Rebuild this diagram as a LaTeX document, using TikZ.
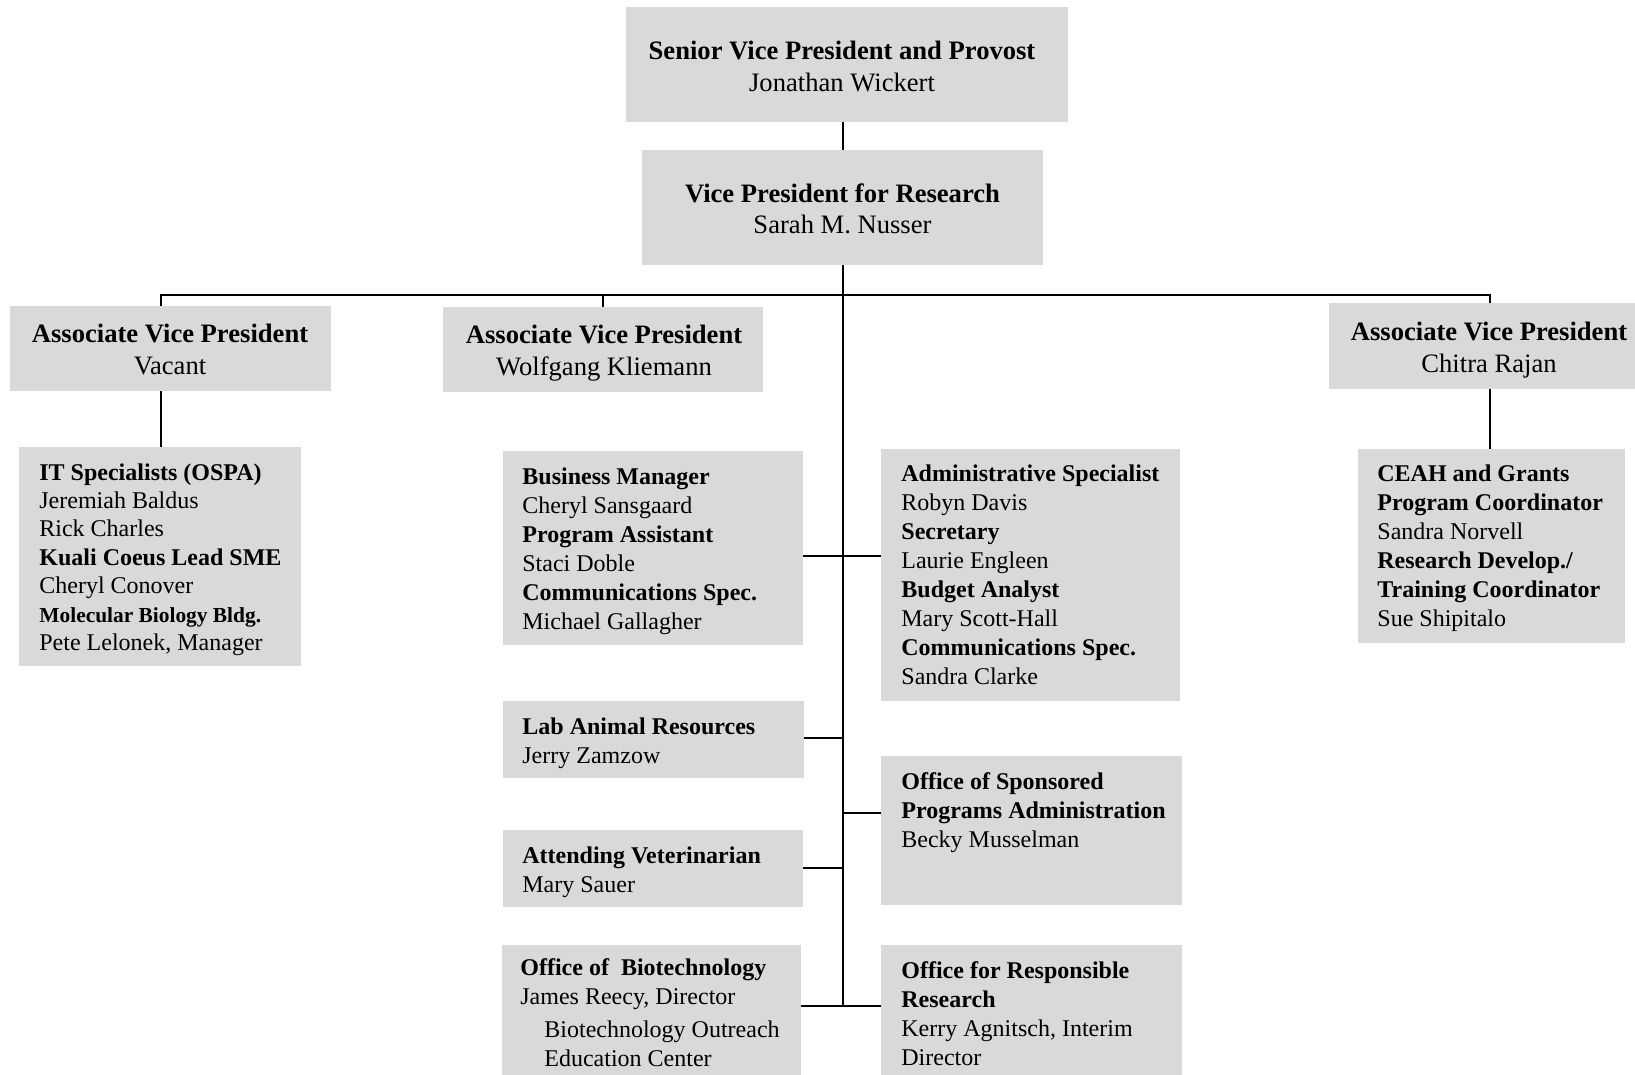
\documentclass[tikz,border=0pt]{standalone}
\usepackage{fontspec}
\setmainfont{Liberation Serif}
\usetikzlibrary{fit}
\definecolor{boxgray}{RGB}{217,217,217}
\begin{document}
\begin{tikzpicture}[x=0.5pt,y=-0.5pt,
  box/.style={fill=boxgray, draw=none, inner sep=0pt},
  link/.style={draw=black, line width=1pt},
  big/.style={inner sep=0pt, align=center, anchor=north, font=\fontsize{13.3}{15.6}\selectfont},
  small/.style={inner sep=0pt, align=left, anchor=north west, font=\fontsize{12}{14.5}\selectfont}]
\useasboundingbox (0,0) rectangle (1635,1075);

% boxes
\node[box, fit={(626,7) (1068,122)}] (top) {};
\node[box, fit={(642,150) (1043,265)}] (vp) {};
\node[box, fit={(10,306) (331,391)}] (avpA) {};
\node[box, fit={(443,307) (763,392)}] (avpB) {};
\node[box, fit={(1329,303) (1635,389)}] (avpC) {};
\node[box, fit={(19,447) (301,666)}] (it) {};
\node[box, fit={(1358,449) (1625,643)}] (ceah) {};
\node[box, fit={(503,451) (803,645)}] (bus) {};
\node[box, fit={(881,449) (1180,701)}] (adm) {};
\node[box, fit={(503,701) (804,778)}] (lab) {};
\node[box, fit={(503,830) (803,907)}] (vet) {};
\node[box, fit={(881,756) (1182,905)}] (ospa) {};
\node[box, fit={(502,945) (801,1075)}] (bio) {};
\node[box, fit={(881,945) (1182,1075)}] (resp) {};

% connectors
\coordinate (busL) at (161,295);
\coordinate (busM) at (603,295);
\coordinate (busR) at (1490,295);
\coordinate (s1) at (842,556);
\coordinate (s2) at (842,738);
\coordinate (s3) at (842,813);
\coordinate (s4) at (842,868);
\coordinate (s5) at (842,1006);

\draw[link] (top.south -| vp.north) -- (vp.north);
\draw[link] (vp.south) -- (vp.south |- s5);
\draw[link] (busL |- avpA.north) -- (busL) -- (busR) -- (busR |- avpC.north);
\draw[link] (busM) -- (busM |- avpB.north);
\draw[link] (busL |- avpA.south) -- (busL |- it.north);
\draw[link] (busR |- avpC.south) -- (busR |- ceah.north);
\draw[link] (bus.east |- s1) -- (adm.west |- s1);
\draw[link] (lab.east |- s2) -- (vp.south |- s2);
\draw[link] (vp.south |- s3) -- (ospa.west |- s3);
\draw[link] (vet.east |- s4) -- (vp.south |- s4);
\draw[link] (bio.east |- s5) -- (resp.west |- s5);

% texts
\node[big] (top-t) at (842,41) {\textbf{Senior Vice President and Provost}\\Jonathan Wickert};
\node[big] (vp-t) at (842.5,183) {\textbf{Vice President for Research}\\Sarah M. Nusser};
\node[big] (avpA-t) at (170,324) {\textbf{Associate Vice President}\\Vacant};
\node[big] (avpB-t) at (604,325) {\textbf{Associate Vice President}\\Wolfgang Kliemann};
\node[big] (avpC-t) at (1489,322) {\textbf{Associate Vice President}\\Chitra Rajan};

\node[small, font=\fontsize{12}{14.2}\selectfont] (it-t) at (39,463) {\textbf{IT Specialists (OSPA)}\\Jeremiah Baldus\\Rick Charles\\\textbf{Kuali Coeus Lead SME}\\Cheryl Conover\\{\fontsize{10.7}{13}\selectfont\textbf{Molecular Biology Bldg.}}\\Pete Lelonek, Manager};
\node[small] (ceah-t) at (1377,464) {\textbf{CEAH and Grants}\\\textbf{Program Coordinator}\\Sandra Norvell\\\textbf{Research Develop./}\\\textbf{Training Coordinator}\\Sue Shipitalo};
\node[small] (bus-t) at (522,467) {\textbf{Business Manager}\\Cheryl Sansgaard\\\textbf{Program Assistant}\\Staci Doble\\\textbf{Communications Spec.}\\Michael Gallagher};
\node[small] (adm-t) at (901,464) {\textbf{Administrative Specialist}\\Robyn Davis\\\textbf{Secretary}\\Laurie Engleen\\\textbf{Budget Analyst}\\Mary Scott-Hall\\\textbf{Communications Spec.}\\Sandra Clarke};
\node[small] (lab-t) at (522,717) {\textbf{Lab Animal Resources}\\Jerry Zamzow};
\node[small] (vet-t) at (522,846) {\textbf{Attending Veterinarian}\\Mary Sauer};
\node[small] (ospa-t) at (901,772) {\textbf{Office of Sponsored}\\\textbf{Programs Administration}\\Becky Musselman};
\node[small] (bio-t) at (520,958) {\textbf{Office of\ \ Biotechnology}\\James Reecy, Director\\[2pt]\hspace*{12pt}Biotechnology Outreach\\\hspace*{12pt}Education Center};
\node[small] (resp-t) at (901,961) {\textbf{Office for Responsible}\\\textbf{Research}\\Kerry Agnitsch, Interim\\Director};
\end{tikzpicture}
\end{document}
